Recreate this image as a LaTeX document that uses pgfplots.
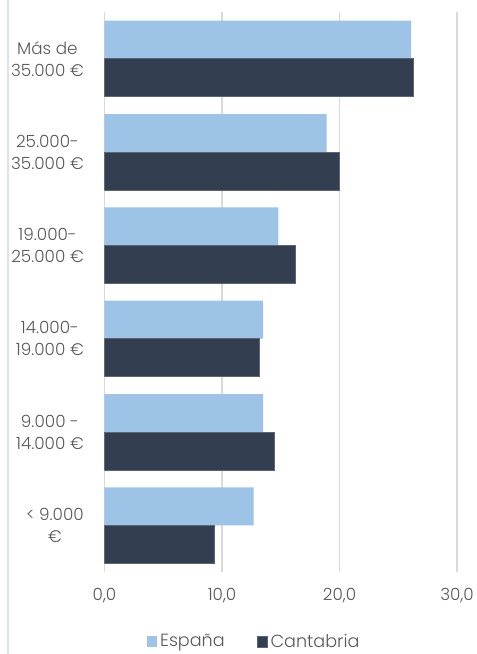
\documentclass[border=0pt]{standalone}
\usepackage{pgfplots}
\pgfplotsset{compat=1.18}
\usepackage{fontspec}
\setmainfont{Poppins}[UprightFont=* Light]
\definecolor{esp}{HTML}{9DC3E6}
\definecolor{can}{HTML}{333F50}
\definecolor{gridc}{HTML}{D9D9D9}
\definecolor{txt}{HTML}{595959}
\definecolor{frame}{HTML}{DAE3F3}
\begin{document}
\begin{tikzpicture}[x=0.75pt,y=0.75pt]
\begin{axis}[
  at={(0,0)}, anchor=south west,
  scale only axis, width=264.4pt, height=420pt,
  xbar, y dir=reverse,
  xmin=0, xmax=30, ymin=-0.5, ymax=5.5,
  xtick={0,10,20,30},
  ytick={0,1,2,3,4,5},
  yticklabels={{Más de\\35.000 €},{25.000-\\35.000 €},{19.000-\\25.000 €},{14.000-\\19.000 €},{9.000 -\\14.000 €},{< 9.000\\€}},
  yticklabel style={align=center, font=\fontsize{12.6}{16.5}\selectfont, text=txt},
  xticklabel style={font=\fontsize{12.6}{14}\selectfont, text=txt},
  /pgf/number format/.cd, fixed, fixed zerofill, precision=1, use comma, assume math mode=true,
  /pgfplots/.cd,
  major tick length=0pt,
  xmajorgrids, grid style={draw=gridc, line width=1.1pt},
  axis x line*=bottom, axis y line*=left,
  x axis line style={draw=none},
  y axis line style={draw=gridc, line width=1.1pt},
  xticklabel shift=9pt,
  yticklabel shift=12pt,
  bar width=28.5pt,
  legend style={at={(0.4255,-0.124)}, anchor=center, draw=none, legend columns=2,
    font=\fontsize{13.2}{14}\selectfont, text=txt, inner sep=1pt,
    /tikz/every even column/.append style={column sep=22pt}},
  legend image code/.code={\fill[#1] (0pt,-4pt) rectangle (8pt,4pt);},
]
\addplot[fill=esp, draw=none, bar shift=14.25pt] coordinates {(26.1,0) (18.9,1) (14.8,2) (13.5,3) (13.5,4) (12.7,5)};
\addplot[fill=can, draw=can!80!white, bar shift=-14.25pt] coordinates {(26.3,0) (20.0,1) (16.2,2) (13.2,3) (14.45,4) (9.3,5)};
\legend{España, Cantabria}
\end{axis}
\draw[frame, line width=1.1pt] (-96.5,-82) -- (-96.5,572);
\pgfresetboundingbox
\useasboundingbox (-104.5,-82) rectangle (371.5,572);
\end{tikzpicture}
\end{document}
